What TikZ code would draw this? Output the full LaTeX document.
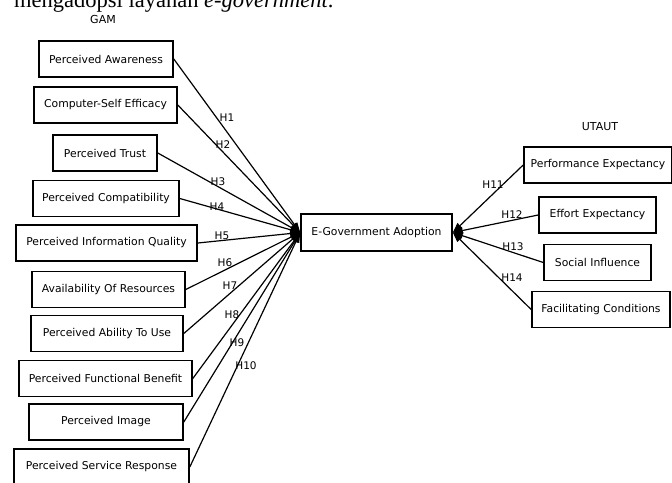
\documentclass[tikz,border=0pt]{standalone}
\usepackage{fontspec}
\setmainfont{DejaVu Sans}
\newfontfamily\serifx{Liberation Serif}
\usetikzlibrary{arrows.meta}
\begin{document}
\begin{tikzpicture}[x=1pt,y=-1pt,
  box/.style={draw,line width=1.6pt,minimum height=36pt,inner sep=0pt,font=\fontsize{10.8}{12}\selectfont},
  conn/.style={line width=1.2pt,-{Triangle[length=10pt,width=7pt]}},
  hlab/.style={font=\fontsize{10.5}{11}\selectfont,inner sep=0pt},
  ttl/.style={font=\fontsize{11}{12}\selectfont,inner sep=0pt}]
\useasboundingbox (0,0) rectangle (672,482);
\node[anchor=base west,inner sep=0pt,font=\serifx\fontsize{22.5}{24}\selectfont] (top) at (14,7) {mengadopsi layanan \textit{e-government}.};
\node[ttl] (gam) at (103,19) {GAM};
\node[ttl] (utaut) at (600,127) {UTAUT};
\node[box,minimum width=134pt] (a1) at (106,59) {Perceived Awareness};
\node[box,minimum width=143pt] (a2) at (105.5,105) {Computer-Self Efficacy};
\node[box,minimum width=104pt] (a3) at (105,153) {Perceived Trust};
\node[box,minimum width=146pt] (a4) at (106,198.5) {Perceived Compatibility};
\node[box,minimum width=181pt] (a5) at (106.5,243) {Perceived Information Quality};
\node[box,minimum width=153pt] (a6) at (108.5,289.5) {Availability Of Resources};
\node[box,minimum width=152pt] (a7) at (107,333.5) {Perceived Ability To Use};
\node[box,minimum width=173pt] (a8) at (105.5,378.5) {Perceived Functional Benefit};
\node[box,minimum width=154pt] (a9) at (106,422) {Perceived Image};
\node[box,minimum width=175pt] (a10) at (101.5,467) {Perceived Service Response};
\node[box,minimum width=151pt,minimum height=37pt] (eg) at (376.5,232.5) {E-Government Adoption};
\node[box,minimum width=148pt] (b1) at (598,165) {Performance Expectancy};
\node[box,minimum width=117pt] (b2) at (597.5,215) {Effort Expectancy};
\node[box,minimum width=107pt] (b3) at (597.5,262.5) {Social Influence};
\node[box,minimum width=138pt] (b4) at (601,309.5) {Facilitating Conditions};
\foreach \i in {1,...,10} {\draw[conn] (a\i.east) -- (eg.west);}
\foreach \i in {1,...,4} {\draw[conn] (b\i.west) -- (eg.east);}
\node[hlab] (h1) at (227,118) {H1};
\node[hlab] (h2) at (223,145) {H2};
\node[hlab] (h3) at (218,182) {H3};
\node[hlab] (h4) at (217,207) {H4};
\node[hlab] (h5) at (222,236) {H5};
\node[hlab] (h6) at (225,263) {H6};
\node[hlab] (h7) at (230,286) {H7};
\node[hlab] (h8) at (232,315) {H8};
\node[hlab] (h9) at (237,343) {H9};
\node[hlab] (h10) at (246,366) {H10};
\node[hlab] (h11) at (493,185) {H11};
\node[hlab] (h12) at (512,215) {H12};
\node[hlab] (h13) at (513,247) {H13};
\node[hlab] (h14) at (512,278) {H14};
\end{tikzpicture}
\end{document}
